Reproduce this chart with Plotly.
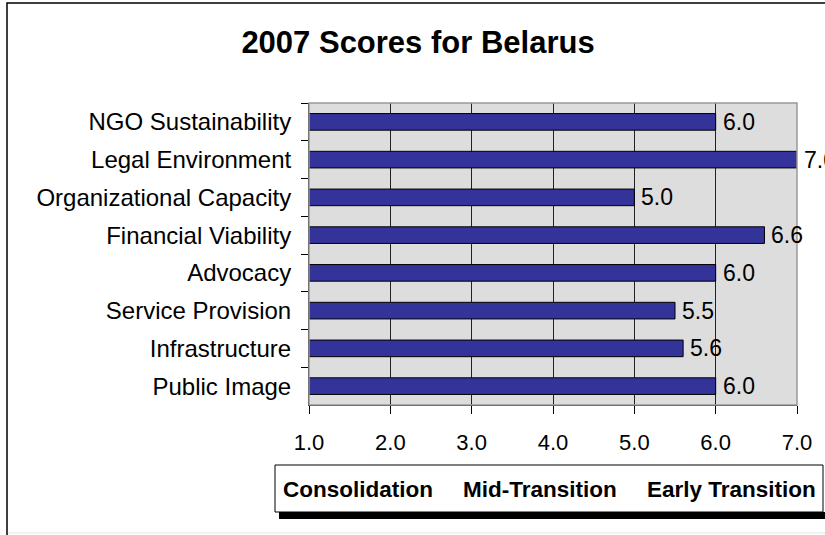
import plotly.graph_objects as go

# Scores by dimension, top to bottom as in the chart
categories = ['NGO Sustainability', 'Legal Environment', 'Organizational Capacity',
              'Financial Viability', 'Advocacy', 'Service Provision',
              'Infrastructure', 'Public Image']
scores = [6.0, 7.0, 5.0, 6.6, 6.0, 5.5, 5.6, 6.0]
x_ticks = [1.0, 2.0, 3.0, 4.0, 5.0, 6.0, 7.0]
stages = ['Consolidation', 'Mid-Transition', 'Early Transition']

FONT = 'Liberation Sans, Arial, sans-serif'

# plot area in pixels
L, R, T, B = 309, 797, 103, 405
W, H = 825, 535


def px(x):
    return (x - L) / (R - L)


def py(y):
    return (B - y) / (B - T)


bars = go.Bar(
    x=scores,
    y=categories,
    orientation='h',
    width=0.44,
    marker=dict(color='#333399', line=dict(color='black', width=1)),
    hoverinfo='x+y',
)

fig = go.Figure(data=[bars])

# value labels to the right of each bar
for c, v in zip(categories, scores):
    fig.add_annotation(x=v, y=c, xref='x', yref='y', text=f'{v:.1f}',
                       showarrow=False, xanchor='left', yanchor='middle',
                       xshift=5, font=dict(family=FONT, size=23, color='black'))

# outer frame
fig.add_shape(type='rect', xref='paper', yref='paper',
              x0=px(7), x1=px(860), y0=py(560), y1=py(3),
              line=dict(color='black', width=1.5), layer='below')
fig.add_shape(type='line', xref='paper', yref='paper',
              x0=px(8), x1=px(860), y0=py(533), y1=py(533),
              line=dict(color='#E4E4E4', width=1))

# plot area border (top/right in gray)
fig.add_shape(type='rect', xref='paper', yref='paper', x0=0, x1=1, y0=0, y1=1,
              line=dict(color='#999999', width=1.5), layer='above')

# stage legend box with shadow underneath
fig.add_shape(type='rect', xref='paper', yref='paper',
              x0=px(279), x1=px(860), y0=py(519), y1=py(512),
              fillcolor='black', line=dict(width=0))
fig.add_shape(type='rect', xref='paper', yref='paper',
              x0=px(275), x1=px(823), y0=py(512), y1=py(465),
              fillcolor='white', line=dict(color='black', width=1))

stage_x = [358, 540, 731]
for s, sx in zip(stages, stage_x):
    fig.add_annotation(x=px(sx), y=py(489), xref='paper', yref='paper',
                       text=f'<b>{s}</b>', showarrow=False,
                       xanchor='center', yanchor='middle',
                       font=dict(family=FONT, size=22.5, color='black'))

fig.update_layout(
    width=W, height=H, autosize=False,
    margin=dict(l=L, r=W - R, t=T, b=H - B, pad=0),
    paper_bgcolor='white',
    plot_bgcolor='#DDDDDD',
    showlegend=False,
    title=dict(text='<b>2007 Scores for Belarus</b>', xref='container', yref='container',
               x=418 / W, y=1 - 42 / H, xanchor='center', yanchor='middle',
               font=dict(family=FONT, size=31, color='black')),
    font=dict(family=FONT, color='black'),
    xaxis=dict(range=[1, 7], tickvals=x_ticks, tickformat='.1f',
               ticks='outside', ticklen=8, tickcolor='black', tickwidth=1,
               showgrid=True, gridcolor='#222222', gridwidth=1,
               showline=True, linecolor='black', linewidth=1, zeroline=False,
               tickfont=dict(family=FONT, size=22, color='black'),
               ticklabelstandoff=10),
    yaxis=dict(type='category', categoryorder='array', categoryarray=categories,
               range=[7.5, -0.5], tickson='boundaries',
               ticks='outside', ticklen=7, tickcolor='black', tickwidth=1,
               showgrid=False, showline=True, linecolor='black', linewidth=1,
               tickfont=dict(family=FONT, size=24, color='black'),
               ticklabelstandoff=12),
)

# drop the page's default body margin so the figure sits at the window corner
fig.write_html('out.html', config={'displayModeBar': False},
               post_script="document.body.style.margin='0';")
